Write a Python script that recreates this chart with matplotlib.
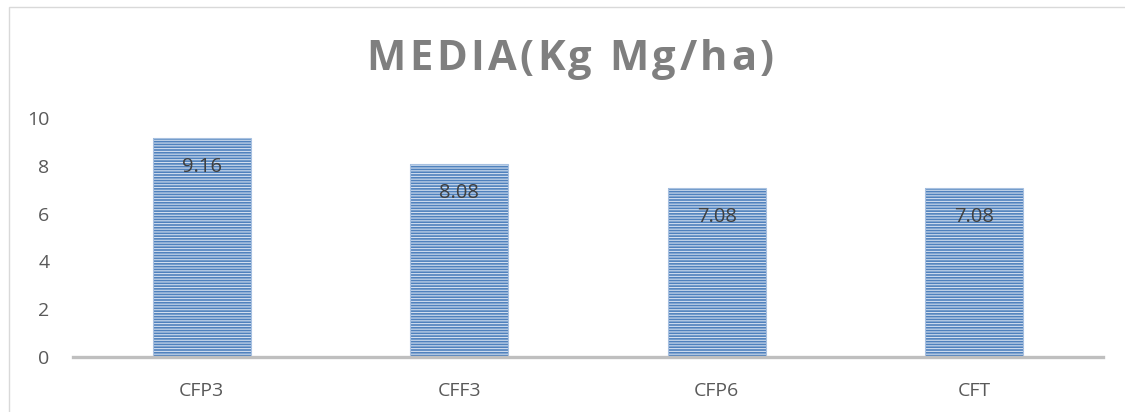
#!/usr/bin/env python3
import matplotlib
matplotlib.use("Agg")
import matplotlib.pyplot as plt
from matplotlib.patches import Rectangle
from matplotlib.offsetbox import TextArea, HPacker, AnchoredOffsetbox

categorias = ["CFP3", "CFF3", "CFP6", "CFT"]
valores = [9.16, 8.08, 7.08, 7.08]
rotulos = ["9.16", "8.08", "7.08", "7.08"]
ticks_y = [0, 2, 4, 6, 8, 10]
titulo = "MEDIA(Kg Mg/ha)"

plt.rcParams['font.family'] = ['Open Sans', 'DejaVu Sans']
plt.rcParams['hatch.linewidth'] = 0.8

fig = plt.figure(figsize=(11.25, 4.12), dpi=100)

# borda do grafico (sai pela direita e por baixo)
fig.patches.append(Rectangle((9 / 1125, -0.1), 1.2, (412 - 7) / 412 + 0.1,
                             transform=fig.transFigure, fill=False,
                             edgecolor='#D9D9D9', linewidth=1.0))

ax = fig.add_axes([73 / 1125, 55 / 412, 1030 / 1125, 239 / 412])

x = range(len(categorias))
ax.bar(x, valores, width=0.38, color='#4F81BD', edgecolor='#D3DFEF',
       linewidth=0, hatch='------', zorder=2)
ax.bar(x, valores, width=0.38, fill=False, edgecolor='#A7C0E0',
       linewidth=0.8, zorder=3)

for xi, v, r in zip(x, valores, rotulos):
    ax.annotate(r, (xi, v), xytext=(0, -21), textcoords='offset points',
                ha='center', va='center', fontsize=14.5, color='#404040',
                zorder=4)

ax.set_xlim(-0.5, len(categorias) - 0.5)
ax.set_ylim(0, 10)
ax.set_yticks(ticks_y)
ax.set_xticks(list(x))
ax.set_xticklabels(categorias)
ax.tick_params(axis='y', length=0, pad=17, labelsize=14, labelcolor='#595959')
ax.tick_params(axis='x', length=0, pad=18, labelsize=14, labelcolor='#595959')

for lado in ['top', 'right', 'left']:
    ax.spines[lado].set_visible(False)
ax.spines['bottom'].set_color('#BFBFBF')
ax.spines['bottom'].set_linewidth(2.4)
ax.spines['bottom'].set_zorder(5)

# titulo com espacamento entre letras
letras = [TextArea(c, textprops=dict(fontsize=30, fontweight='bold',
                                      color='#7F7F7F'))
          for c in titulo]
caixa = HPacker(children=letras, align='baseline', pad=0, sep=2.5)
anc = AnchoredOffsetbox(loc='center', child=caixa, frameon=False,
                        bbox_to_anchor=(570 / 1125, (412 - 60) / 412),
                        bbox_transform=fig.transFigure, pad=0, borderpad=0)
fig.add_artist(anc)

fig.savefig("out.png", dpi=100)
